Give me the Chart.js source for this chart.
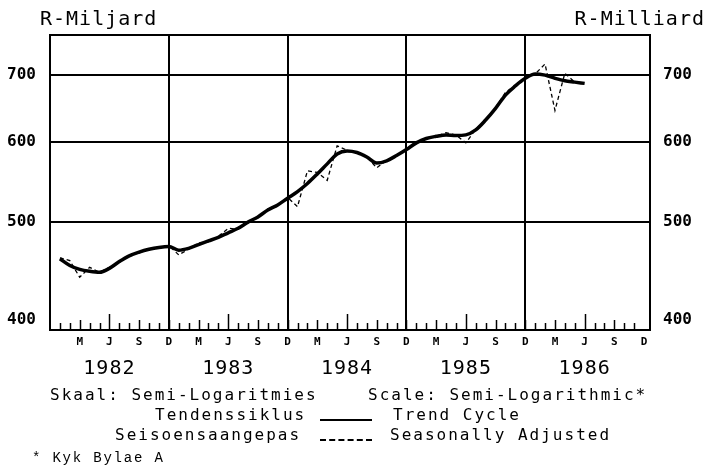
<!DOCTYPE html>
<html>
<head>
<meta charset="utf-8">
<script src="https://cdn.jsdelivr.net/npm/chart.js@4.4.1/dist/chart.umd.min.js"></script>
<style>
    body { margin: 0; background: #fff; }
    #wrap { position: relative; width: 706px; height: 465px; }
    .lbl {
        position: absolute;
        white-space: nowrap;
        color: #000;
        font-family: 'DejaVu Sans Mono', monospace;
    }
    .unit { font-size: 20px; line-height: 20px; letter-spacing: 1px; top: 8px; }
    .cap { font-size: 16px; line-height: 16px; letter-spacing: 2px; }
    .note { font-family: 'Liberation Mono', monospace; font-size: 14px; line-height: 14px; letter-spacing: 1.8px; }
    .sample { position: absolute; left: 320px; width: 52px; }
</style>
</head>
<body>
<div id="wrap">
    <canvas id="chart" width="706" height="465"></canvas>

    <div class="lbl unit" style="left:40px;">R-Miljard</div>
    <div class="lbl unit" style="right:1px;">R-Milliard</div>

    <div class="lbl cap" style="left:50px; top:387px;">Skaal: Semi-Logaritmies</div>
    <div class="lbl cap" style="left:368px; top:387px;">Scale: Semi-Logarithmic*</div>
    <div class="lbl cap" style="left:155px; top:407px;">Tendenssiklus</div>
    <div class="sample" style="top:419px; border-top:2px solid #000;"></div>
    <div class="lbl cap" style="left:393px; top:407px;">Trend Cycle</div>
    <div class="lbl cap" style="left:115px; top:427px;">Seisoensaangepas</div>
    <div class="sample" style="top:439px; border-top:2px dashed #000;"></div>
    <div class="lbl cap" style="left:390px; top:427px;">Seasonally Adjusted</div>
    <div class="lbl note" style="left:32px; top:451px;">* Kyk Bylae A</div>
</div>

<script>
// maande vanaf Januarie 1982 (1 = Jan 1982)
const firstMonth = 1;

// Tendenssiklus / Trend Cycle (R-miljard)
const trendCycle = [
    460, 453, 449, 447, 446, 450, 457, 463, 467, 470, 472, 473,
    469, 471, 475, 479, 483, 488, 493, 500, 506, 514, 520, 528,
    536, 546, 558, 571, 584, 588, 586, 580, 572, 575, 582, 590,
    599, 605, 608, 610, 609, 610, 617, 631, 648, 668, 682, 694,
    701, 699, 694, 690, 688, 686
];

// Seisoensaangepas / Seasonally Adjusted
const seasonallyAdjusted = [
    461, 458, 441, 451, 446, 451, 456, 464, 466, 471, 471, 474,
    464, 470, 477, 478, 484, 493, 492, 501, 505, 515, 520, 529,
    518, 562, 560, 550, 595, 589, 586, 580, 566, 576, 582, 590,
    598, 606, 608, 613, 610, 599, 618, 631, 649, 672, 683, 695,
    701, 717, 645, 702, 688
];

const yearLabels = ['1982', '1983', '1984', '1985', '1986'];
const quarterLabels = ['D', 'M', 'J', 'S'];   // maand 12, 3, 6, 9
const valueTicks = [400, 500, 600, 700];

const monthsShown = 60;

function toPoints(values) {
    return values.map((v, i) => ({ x: firstMonth + i, y: v }));
}

// Maandmerke binne die grafiek en jaartalle onder die as
const axisDecor = {
    id: 'axisDecor',
    beforeDatasetsDraw(chart) {
        const { ctx, chartArea } = chart;
        const xs = chart.scales.x;
        ctx.save();
        ctx.strokeStyle = '#000';
        ctx.lineWidth = 1.5;
        for (let m = 1; m < monthsShown; m++) {
            let len = 7;
            if (m % 3 === 0) len = 10;
            if (m % 12 === 6) len = 16;
            const px = Math.round(xs.getPixelForValue(m)) + 0.5;
            ctx.beginPath();
            ctx.moveTo(px, chartArea.bottom);
            ctx.lineTo(px, chartArea.bottom - len);
            ctx.stroke();
        }
        ctx.restore();
    },
    afterDraw(chart) {
        const { ctx, chartArea } = chart;
        const xs = chart.scales.x;
        ctx.save();
        // raam
        ctx.strokeStyle = '#000';
        ctx.lineWidth = 2;
        ctx.strokeRect(chartArea.left, chartArea.top,
            chartArea.right - chartArea.left, chartArea.bottom - chartArea.top);
        // jaartalle
        ctx.fillStyle = '#000';
        ctx.font = '20px "DejaVu Sans Mono"';
        ctx.letterSpacing = '1px';
        ctx.textAlign = 'center';
        ctx.textBaseline = 'middle';
        yearLabels.forEach((year, k) => {
            ctx.fillText(year, xs.getPixelForValue(k * 12 + 6), 369);
        });
        ctx.restore();
    }
};

const yAxisBase = {
    type: 'logarithmic',
    min: 391,
    max: 766,
    afterBuildTicks: (scale) => {
        scale.ticks = valueTicks.map(v => ({ value: v }));
    },
    ticks: {
        color: '#000',
        font: { family: 'DejaVu Sans Mono', size: 16, weight: 'bold' },
        callback: (v) => String(v)
    },
    border: { display: false }
};

new Chart(document.getElementById('chart'), {
    type: 'line',
    data: {
        datasets: [
            {
                label: 'Trend Cycle',
                data: toPoints(trendCycle),
                borderColor: '#000',
                borderWidth: 3.5,
                pointRadius: 0,
                tension: 0.4,
                cubicInterpolationMode: 'monotone'
            },
            {
                label: 'Seasonally Adjusted',
                data: toPoints(seasonallyAdjusted),
                borderColor: '#000',
                borderWidth: 1.3,
                borderDash: [4, 3],
                pointRadius: 0,
                tension: 0
            }
        ]
    },
    options: {
        responsive: false,
        animation: false,
        layout: { padding: { top: 35, left: 0, right: 0, bottom: 0 } },
        plugins: {
            legend: { display: false },
            tooltip: { enabled: false }
        },
        scales: {
            x: {
                type: 'linear',
                min: 0,
                max: 60.6,
                afterBuildTicks: (scale) => {
                    const t = [];
                    for (let m = 0; m <= monthsShown; m++) t.push({ value: m });
                    scale.ticks = t;
                },
                afterFit: (scale) => { scale.height = 135; },
                ticks: {
                    autoSkip: false,
                    maxRotation: 0,
                    padding: 6,
                    color: '#000',
                    font: { family: 'DejaVu Sans Mono', size: 11, weight: 'bold' },
                    callback: (v) => (v > 0 && v % 3 === 0) ? quarterLabels[(v % 12) / 3] : ''
                },
                grid: {
                    drawTicks: false,
                    lineWidth: 2,
                    color: (c) => {
                        const v = c.tick ? c.tick.value : 0;
                        return (v > 0 && v < monthsShown && v % 12 === 0) ? '#000' : 'rgba(0,0,0,0)';
                    }
                },
                border: { display: false }
            },
            y: Object.assign({}, yAxisBase, {
                position: 'left',
                afterFit: (scale) => { scale.width = 50; },
                ticks: Object.assign({}, yAxisBase.ticks, { padding: 14 }),
                grid: {
                    drawTicks: false,
                    lineWidth: 2,
                    color: (c) => (c.tick && c.tick.value === 400) ? 'rgba(0,0,0,0)' : '#000'
                }
            }),
            y2: Object.assign({}, yAxisBase, {
                position: 'right',
                afterFit: (scale) => { scale.width = 56; },
                ticks: Object.assign({}, yAxisBase.ticks, { padding: 13 }),
                grid: { display: false, drawTicks: false }
            })
        }
    },
    plugins: [axisDecor]
});
</script>
</body>
</html>
